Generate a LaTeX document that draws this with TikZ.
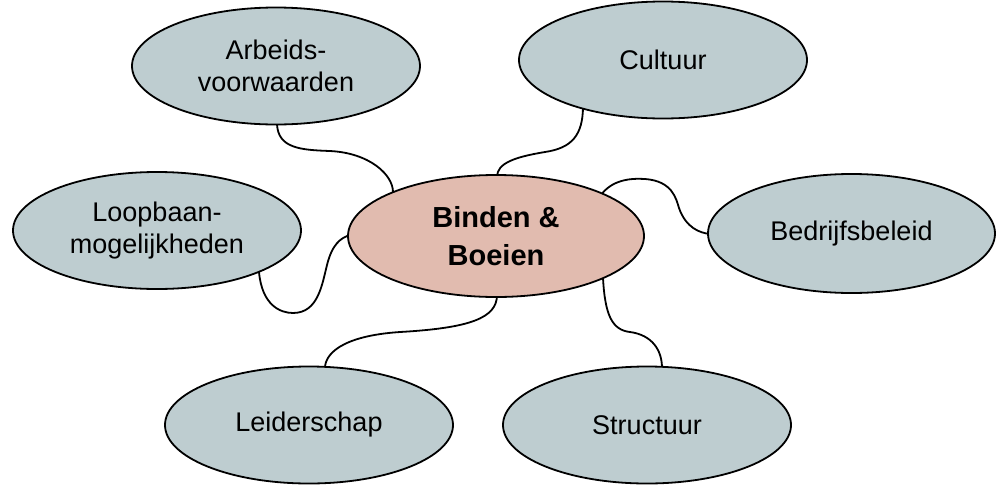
\documentclass[tikz,border=0pt]{standalone}
\usepackage{fontspec}
\setmainfont{Liberation Sans}
\usetikzlibrary{shapes.geometric}
\definecolor{outerfill}{RGB}{190,205,208}
\definecolor{centerfill}{RGB}{225,187,175}
\tikzset{
  topic/.style={ellipse, draw=black, line width=1.8pt, fill=outerfill, align=center,
    font=\fontsize{27}{32}\selectfont, inner sep=0pt, minimum width=288pt, minimum height=117pt},
  hub/.style={ellipse, draw=black, line width=1.8pt, fill=centerfill, align=center,
    font=\fontsize{29}{38}\selectfont\bfseries, inner sep=0pt},
  link/.style={draw=black, line width=1.8pt}
}
\begin{document}
\begin{tikzpicture}[x=1pt,y=-1pt]
\useasboundingbox (0,0) rectangle (997,485);
% connectors first (behind nodes)
\coordinate (a1) at (277,124);
\coordinate (a2) at (393,192);
\coordinate (c1) at (583,106);
\coordinate (c2) at (497,177);
\coordinate (b1) at (601,195);
\coordinate (b2) at (710,234);
\coordinate (l1) at (259,272);
\coordinate (l2) at (350,235);
\coordinate (d1) at (497,295);
\coordinate (d2) at (325,368);
\coordinate (s1) at (603,278);
\coordinate (s2) at (662,368);
\draw[link] (a1) .. controls (278,148) and (300,150) .. (330,151) .. controls (370,153) and (393,175) .. (a2);
\draw[link] (c1) .. controls (583,135) and (572,148) .. (545,152) .. controls (515,157) and (497,163) .. (c2);
\draw[link] (b1) .. controls (612,180) and (630,178) .. (645,179) .. controls (672,181) and (676,198) .. (679,208) .. controls (686,228) and (700,233) .. (b2);
\draw[link] (l1) .. controls (262,305) and (280,313) .. (293,313) .. controls (318,313) and (322,285) .. (327,265) .. controls (332,245) and (340,238) .. (l2);
\draw[link] (d1) .. controls (497,318) and (470,328) .. (400,332) .. controls (340,336) and (325,355) .. (d2);
\draw[link] (s1) .. controls (605,315) and (612,330) .. (630,332) .. controls (652,335) and (662,350) .. (s2);
% nodes
\node[topic] (arb) at (276,66) {Arbeids-\\voorwaarden};
\node[topic] (cul) at (663,60) {Cultuur};
\node[topic] (loo) at (157,230.5) {Loopbaan-\\mogelijkheden};
\node[topic, minimum width=287pt, minimum height=119pt] (bed) at (851.5,233.5) {\raisebox{4pt}{Bedrijfsbeleid}};
\node[topic] (lei) at (309,425) {Leiderschap};
\node[topic] (str) at (647,425) {Structuur};
\node[hub, minimum width=296pt, minimum height=122pt] (hub) at (496,236) {Binden \&\\Boeien};
\end{tikzpicture}
\end{document}
